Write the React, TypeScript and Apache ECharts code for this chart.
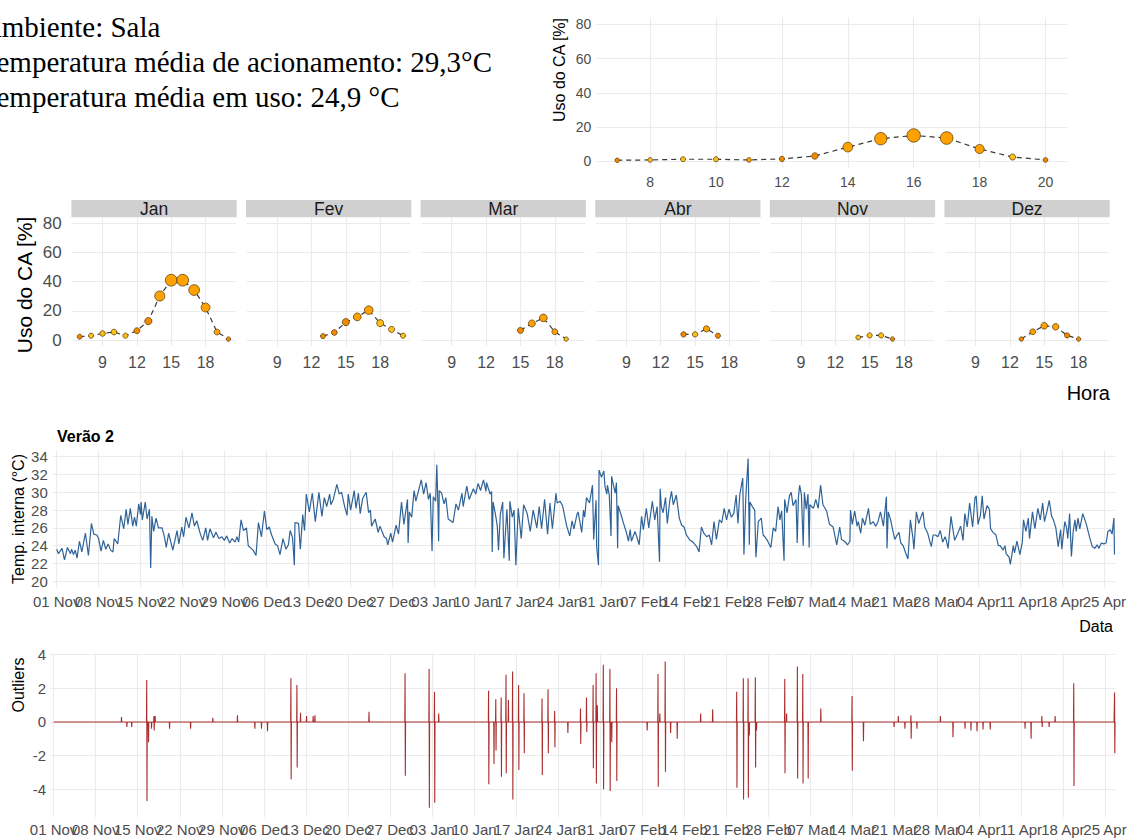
import { useEffect, useRef } from "react";
import * as echarts from "echarts";

const SANS = "'Liberation Sans', Arial, Helvetica, sans-serif";
const SERIF = "'Liberation Serif', 'Times New Roman', serif";

// ---------- text ----------
const infoLines = [
  "Ambiente: Sala",
  "Temperatura média de acionamento: 29,3°C",
  "Temperatura média em uso: 24,9 °C",
];

// ---------- tick values / labels ----------
const hourTicksTop = [8, 10, 12, 14, 16, 18, 20];
const hourTicksFacet = [9, 12, 15, 18];
const usageTicks = [0, 20, 40, 60, 80];
const tempTicks = [20, 22, 24, 26, 28, 30, 32, 34];
const outlierTicks = [-4, -2, 0, 2, 4];
const weekLabels = [
  "01 Nov", "08 Nov", "15 Nov", "22 Nov", "29 Nov", "06 Dec", "13 Dec", "20 Dec", "27 Dec",
  "03 Jan", "10 Jan", "17 Jan", "24 Jan", "31 Jan", "07 Feb", "14 Feb", "21 Feb", "28 Feb",
  "07 Mar", "14 Mar", "21 Mar", "28 Mar", "04 Apr", "11 Apr", "18 Apr", "25 Apr",
];

// ---------- overall hourly use (top right) ----------
const overallHours = [7, 8, 9, 10, 11, 12, 13, 14, 15, 16, 17, 18, 19, 20];
const overallUse = [0.6, 0.8, 1.2, 1.2, 0.8, 1.4, 3.1, 8.3, 13.2, 15.1, 13.6, 7.2, 2.5, 0.8];
const overallTone = ["d", "y", "y", "y", "o", "d", "d", "o", "o", "o", "o", "o", "y", "d"];

// ---------- monthly facets ----------
const facetMonths = ["Jan", "Fev", "Mar", "Abr", "Nov", "Dez"];
const janHours = [7, 8, 9, 10, 11, 12, 13, 14, 15, 16, 17, 18, 19, 20];
const janUse = [2.3, 3.0, 4.5, 5.5, 3.0, 6.4, 13.0, 30.2, 41.0, 41.0, 34.3, 22.3, 5.5, 0.7];
const janTone = ["d", "y", "y", "y", "y", "d", "d", "o", "o", "o", "o", "o", "o", "d"];
const fevHours = [13, 14, 15, 16, 17, 18, 19, 20];
const fevUse = [2.7, 5.2, 12.3, 15.9, 20.5, 11.6, 7.3, 3.0];
const fevTone = ["d", "d", "d", "o", "o", "y", "y", "y"];
const marHours = [15, 16, 17, 18, 19];
const marUse = [6.6, 11.4, 15.2, 5.7, 0.7];
const marTone = ["d", "o", "o", "o", "y"];
const abrHours = [14, 15, 16, 17];
const abrUse = [3.9, 3.9, 7.7, 3.0];
const abrTone = ["d", "y", "o", "d"];
const novHours = [14, 15, 16, 17];
const novUse = [1.8, 3.2, 3.2, 0.7];
const novTone = ["y", "y", "y", "d"];
const dezHours = [13, 14, 15, 16, 17, 18];
const dezUse = [0.7, 5.7, 9.8, 9.1, 3.2, 0.7];
const dezTone = ["d", "o", "o", "o", "d", "d"];

// ---------- indoor temperature (day since 01 Nov, °C) ----------
const tempReadings: number[][] = [
  [0.0,23.6],[0.3,23.1],[0.9,23.7],[1.3,22.4],[1.8,23.8],[2.3,23.1],[2.5,23.6],[2.8,23.0],[3.1,23.5],[3.4,22.6],
  [3.8,24.5],[4.2,23.3],[4.8,25.4],[5.3,22.9],[5.8,26.5],[6.2,25.3],[6.7,25.2],[7.0,24.8],[7.4,23.4],[7.8,24.6],
  [8.2,23.6],[8.6,24.2],[9.0,23.5],[9.4,23.3],[9.6,24.8],[10.2,24.2],[10.7,27.4],[11.2,25.9],[11.6,28.1],[11.9,26.4],
  [12.3,28.2],[12.7,26.2],[13.0,27.2],[13.3,26.2],[13.7,28.7],[14.0,27.5],[14.1,28.9],[14.3,26.9],[14.8,28.9],[15.1,27.0],
  [15.5,28.1],[15.7,21.5],[15.9,27.3],[16.2,25.6],[16.6,27.1],[17.0,26.0],[17.6,26.0],[18.0,25.0],[18.3,23.8],[18.7,25.4],
  [19.4,23.5],[20.1,25.7],[20.4,24.2],[20.9,26.1],[21.2,25.0],[21.6,27.2],[22.1,26.0],[22.6,27.7],[23.0,26.2],[23.4,26.8],
  [24.0,25.3],[24.4,24.6],[24.9,26.0],[25.2,24.6],[25.6,25.9],[26.2,24.9],[26.6,25.5],[27.1,24.8],[27.6,25.0],[28.0,24.6],
  [28.4,25.1],[28.9,24.3],[29.3,24.8],[29.8,24.4],[30.1,25.0],[30.4,24.4],[30.8,26.9],[31.2,25.7],[31.7,26.0],[32.0,24.0],
  [32.8,23.5],[33.3,22.9],[33.7,26.6],[34.2,25.0],[34.7,27.9],[35.1,25.8],[35.5,26.1],[35.9,25.2],[36.5,24.2],[36.9,24.0],
  [37.3,23.0],[37.8,24.8],[38.3,23.6],[38.7,24.1],[39.0,25.7],[39.4,24.9],[39.7,21.8],[39.8,26.6],[40.4,26.5],[40.7,23.6],
  [41.1,27.5],[41.4,25.7],[41.7,29.8],[42.2,27.8],[42.7,29.9],[43.2,26.7],[43.8,30.0],[44.3,27.3],[44.7,29.4],[45.1,28.4],
  [45.6,29.8],[45.8,28.6],[46.2,29.2],[46.8,30.9],[47.2,29.8],[47.6,30.0],[48.1,28.4],[48.5,27.4],[48.7,29.8],[49.1,28.0],
  [49.7,30.2],[50.0,28.2],[50.4,29.9],[50.7,27.6],[51.1,29.3],[51.7,30.0],[52.1,27.7],[52.4,28.0],[52.6,26.2],[53.2,27.0],
  [53.7,25.5],[54.0,26.2],[54.7,25.0],[55.1,24.8],[55.3,24.1],[55.8,25.4],[56.1,24.4],[56.7,26.3],[57.1,25.3],[57.6,28.9],
  [58.0,26.4],[58.6,29.2],[58.7,24.3],[58.9,27.8],[59.3,27.2],[59.7,30.2],[60.0,29.0],[60.9,31.4],[61.3,29.8],[61.7,31.1],
  [62.1,29.2],[62.4,29.9],[62.7,23.4],[62.9,29.5],[63.3,29.0],[63.5,33.1],[63.7,28.0],[63.8,24.5],[63.9,30.2],[64.3,29.9],
  [64.7,28.7],[65.0,29.4],[65.4,27.0],[66.2,26.6],[66.7,28.7],[67.1,28.0],[67.7,29.9],[67.9,28.4],[68.5,30.7],[68.9,29.2],
  [69.6,30.4],[70.0,29.8],[70.4,31.0],[70.8,30.2],[71.3,31.4],[71.7,30.1],[71.8,31.1],[72.4,29.8],[72.65,30.1],[72.75,23.3],
  [72.9,28.9],[73.3,27.5],[73.6,26.2],[73.8,23.5],[74.1,27.5],[74.5,28.9],[74.7,22.6],[75.2,28.1],[75.6,22.3],[75.7,29.0],
  [76.1,27.2],[76.4,28.0],[76.7,21.8],[77.1,28.2],[77.6,24.8],[78.0,28.6],[78.6,27.6],[79.1,25.6],[79.6,28.0],[80.2,26.0],
  [80.6,28.4],[81.0,25.9],[81.5,29.2],[82.0,25.3],[82.4,28.8],[82.8,25.9],[83.4,29.9],[83.6,28.8],[84.1,29.0],[84.5,28.5],
  [85.2,26.2],[85.7,25.1],[86.1,26.8],[86.4,25.9],[86.9,27.5],[87.1,27.8],[87.7,25.5],[88.0,28.0],[88.2,27.2],[88.5,29.4],
  [89.0,28.8],[89.5,30.8],[89.7,24.7],[90.1,29.1],[90.2,23.9],[90.5,21.8],[90.6,32.5],[91.0,31.7],[91.4,32.4],[91.6,30.6],
  [91.9,29.8],[92.0,30.8],[92.3,29.7],[92.6,25.1],[92.7,31.8],[93.0,30.8],[93.3,29.9],[93.5,31.1],[93.7,23.7],[93.8,28.5],
  [94.4,27.2],[94.6,26.7],[95.2,25.4],[95.5,24.5],[95.8,25.8],[96.0,24.5],[96.6,25.6],[96.9,25.0],[97.3,24.1],[97.7,27.3],
  [98.0,25.8],[98.5,28.2],[98.9,26.0],[99.5,29.0],[99.9,26.9],[100.3,28.4],[100.7,22.2],[100.8,30.4],[101.0,28.4],[101.3,27.7],
  [101.7,29.4],[102.0,26.5],[102.4,29.0],[102.7,30.1],[103.0,28.6],[103.5,29.7],[104.0,27.1],[104.4,26.3],[104.8,26.1],[105.2,25.2],
  [105.8,24.6],[106.3,24.4],[106.9,23.9],[107.3,23.3],[107.7,26.1],[108.1,25.4],[108.6,25.0],[109.0,25.2],[109.4,24.1],[109.8,26.7],
  [110.2,24.7],[110.7,26.9],[111.1,26.6],[111.5,28.2],[111.9,26.9],[112.3,28.1],[112.7,27.2],[113.1,27.6],[113.5,29.7],[113.8,26.5],
  [114.1,29.7],[114.6,31.6],[114.8,23.0],[115.1,29.3],[115.5,33.8],[115.7,24.1],[115.8,28.9],[116.2,28.4],[116.6,28.0],[116.8,22.7],
  [117.2,26.7],[117.7,27.1],[118.0,25.2],[118.3,25.0],[118.7,24.6],[119.0,24.2],[119.3,23.8],[119.7,26.0],[120.1,25.6],[120.5,28.4],
  [120.8,26.9],[121.1,27.9],[121.5,22.3],[121.6,29.2],[122.0,27.7],[122.4,29.6],[122.7,30.0],[123.0,28.5],[123.5,29.2],[123.7,24.3],
  [123.9,29.4],[124.1,30.8],[124.4,29.7],[124.7,24.0],[124.9,30.0],[125.2,28.1],[125.5,29.8],[125.7,23.8],[125.8,28.6],[126.1,28.4],
  [126.4,28.2],[126.8,29.2],[127.2,28.2],[127.6,30.8],[128.0,28.6],[128.6,27.9],[129.1,26.4],[129.7,26.1],[130.3,24.1],[130.8,26.1],
  [131.1,24.7],[131.6,24.5],[132.1,24.1],[132.5,24.5],[132.6,28.0],[132.9,26.4],[133.3,27.9],[133.7,26.2],[133.9,26.7],[134.3,25.4],
  [134.6,27.1],[135.0,26.3],[135.6,28.2],[135.9,26.4],[136.4,26.7],[136.8,26.2],[137.2,26.7],[137.6,27.8],[138.1,26.2],[138.6,29.5],
  [138.7,23.7],[138.9,27.8],[139.3,26.9],[139.7,25.6],[140.0,24.7],[140.3,25.1],[140.7,25.5],[141.0,24.3],[141.4,24.0],[141.8,23.2],
  [142.2,22.5],[142.6,26.9],[143.0,25.0],[143.2,23.6],[143.6,27.8],[144.0,26.5],[144.3,27.1],[144.7,27.8],[145.0,26.1],[145.5,25.4],
  [145.8,24.6],[146.1,23.9],[146.4,25.2],[146.8,25.2],[147.2,25.0],[147.6,25.7],[148.0,24.4],[148.4,25.0],[148.6,24.6],[148.9,23.7],
  [149.4,27.3],[149.6,26.3],[150.0,24.6],[150.4,25.2],[151.0,26.2],[151.4,24.6],[151.7,27.6],[152.1,26.1],[152.5,28.8],[153.0,26.1],
  [153.4,29.4],[153.6,29.6],[153.9,26.4],[154.3,27.4],[154.6,29.6],[154.9,27.0],[155.4,28.5],[155.8,28.1],[156.0,25.9],[156.4,25.5],
  [156.9,25.2],[157.3,24.0],[157.6,24.0],[158.1,23.5],[158.4,24.0],[158.6,23.1],[159.1,22.7],[159.3,21.9],[159.8,24.0],[160.0,23.2],
  [160.4,24.5],[160.9,23.0],[161.3,24.4],[161.5,26.9],[161.9,25.6],[162.3,27.1],[162.5,24.8],[163.0,27.8],[163.4,25.9],[163.9,28.2],
  [164.3,26.9],[164.7,28.8],[165.0,26.7],[165.4,27.8],[165.8,29.1],[166.2,27.3],[166.5,26.9],[166.9,26.0],[167.3,23.9],[167.7,25.8],
  [167.9,23.6],[168.4,26.7],[168.7,26.0],[168.9,24.8],[169.2,27.6],[169.5,22.8],[169.8,25.6],[170.1,26.9],[170.3,25.6],[170.6,27.1],
  [170.9,25.9],[171.4,27.6],[172.0,26.4],[172.6,24.8],[173.0,23.9],[173.4,23.7],[173.8,24.1],[174.1,23.7],[174.5,24.3],[174.9,24.2],
  [175.3,24.3],[175.6,25.6],[176.0,25.8],[176.3,25.3],[176.6,27.1],[176.7,23.0],
];

// ---------- outliers: [day since 01 Nov, value at consecutive hours...] ----------
const outlierEvents: number[][] = [
  [11.3,0.3],[12.2,-0.3],[13.0,-0.3],[15.5,2.5,-4.7],[15.8,-1.2],[16.3,-0.4],[16.7,0.35,-0.5],[16.9,0.35],
  [19.3,-0.4],[22.8,-0.4],[26.5,0.25],[30.6,0.4],[33.5,-0.4],[34.6,-0.4],[35.6,-0.55],[39.5,2.6,-3.4],
  [40.5,2.2,-2.7],[41.1,0.55],[42.1,0.35],[43.2,0.35],[43.5,0.4],[52.5,0.6],[58.5,2.9,-3.2],[62.5,3.15,-5.1],
  [63.4,1.8,-4.8],[64.1,0.5],[72.4,1.85,-3.7],[73.3,-2.5],[73.6,1.35,-1.7],[74.5,1.45,-3.25],[75.3,2.8,-3.05],
  [75.7,1.3],[76.4,3.0,-4.6],[77.4,2.2,-2.85],[78.3,1.7,-1.85],[81.3,1.4,-3.15],[82.3,1.95,-1.85],[83.4,0.65,-1.5],
  [85.6,-0.65],[87.7,0.8,-1.3],[88.7,1.45,-0.6],[89.8,2.2,-2.75],[90.3,2.9,-3.65],[90.5,1.0],[91.5,3.4,-4.0],
  [92.6,3.15,-4.1],[92.9,-1.2],[93.7,2.0,-3.5],[98.8,-0.5],[100.6,2.85,-3.85],[100.9,0.5],[101.8,3.6,-2.95],
  [102.7,-0.65],[103.8,-1.0],[107.7,0.5],[109.7,0.75],[113.7,1.8,-3.9],[114.8,2.6,-4.6],[115.6,2.6,-4.5],
  [115.8,-0.8],[116.8,2.65,-2.7],[117.0,-0.5],[121.7,2.55,-3.05],[122.0,0.5],[123.8,3.3,-3.35],[124.7,2.85,-3.65],
  [125.6,-3.35],[127.7,0.8],[132.9,1.55,-2.9],[134.8,-1.15],[139.9,-0.3],[140.6,0.35],[141.7,-0.4],[142.7,0.4,-1.0],
  [143.7,-0.4],[147.6,0.35],[149.7,-0.9],[151.7,-0.4],[152.7,-0.5],[153.7,-0.55],[154.7,-0.45],[155.9,-0.45],
  [161.7,-0.4],[162.7,-1.0],[164.5,0.35,-0.3],[165.7,-0.3],[166.7,0.35],[169.8,2.3,-3.8],[176.55,0.8,1.75,-1.85],
];
const seriesStartDay = 0;
const seriesEndDay = 176.7;

// ---------- styles / layout ----------
const TONES: Record<string, string> = { d: "#F28A00", o: "#FFA200", y: "#FFBF1A" };
const GRID_LINE = "#EBEBEB";
const TICK_TEXT = "#4D4D4D";
const FACET_LEFT0 = 72.2;
const FACET_PITCH = 174.6;
const FACET_W = 163.7;
const FACET_TOP = 217.5;
const FACET_H = 128.4;

function topSize(v: number) {
  return 3.5 + 0.4 * v + Math.sqrt(v);
}
function facetSize(v: number) {
  return 3.8 + 0.1 * v + 0.6 * Math.sqrt(v);
}

function valueAxis(gridIndex: number, min: number, max: number, ticks: number[], opts: any = {}) {
  return {
    type: "value",
    gridIndex,
    min,
    max,
    position: opts.position,
    axisLine: { show: false },
    axisTick: { show: false, customValues: ticks },
    axisLabel: {
      show: opts.showLabel !== false,
      customValues: opts.labelValues ?? ticks,
      showMinLabel: true,
      showMaxLabel: true,
      hideOverlap: false,
      fontSize: opts.fontSize ?? 14,
      color: TICK_TEXT,
      fontFamily: SANS,
      margin: opts.margin ?? 6,
      formatter: opts.formatter,
    },
    splitLine: { show: opts.showSplit !== false, lineStyle: { color: GRID_LINE, width: 1.1 } },
  };
}

function pointSeries(xi: number, hours: number[], use: number[], tone: string[], sizeFn: (v: number) => number) {
  return {
    type: "line",
    xAxisIndex: xi,
    yAxisIndex: xi,
    clip: false,
    symbol: "circle",
    showSymbol: true,
    symbolSize: (val: number[]) => sizeFn(val[1]),
    lineStyle: { color: "#3a3a3a", width: 1.2, type: [5, 4] },
    itemStyle: { borderColor: "rgba(70,45,0,0.85)", borderWidth: 0.8 },
    data: hours.map((h, i) => ({ value: [h, use[i]], itemStyle: { color: TONES[tone[i]] } })),
    silent: true,
  };
}

function buildOption() {
  const grids: any[] = [];
  const xAxes: any[] = [];
  const yAxes: any[] = [];
  const series: any[] = [];
  const graphics: any[] = [];

  // 0: overall use
  grids.push({ left: 595.8, top: 17.45, width: 471.1, height: 150.7, outerBoundsMode: "none", containLabel: false });
  xAxes.push(valueAxis(0, 6.35, 20.65, hourTicksTop, { fontSize: 14, margin: 7 }));
  yAxes.push(valueAxis(0, -4, 84, usageTicks, { fontSize: 14, margin: 4.5 }));
  series.push(pointSeries(0, overallHours, overallUse, overallTone, topSize));

  // 1..6: facets
  const facetData = [
    [janHours, janUse, janTone],
    [fevHours, fevUse, fevTone],
    [marHours, marUse, marTone],
    [abrHours, abrUse, abrTone],
    [novHours, novUse, novTone],
    [dezHours, dezUse, dezTone],
  ] as any[];
  facetMonths.forEach((m, i) => {
    const gi = i + 1;
    const left = FACET_LEFT0 + FACET_PITCH * i;
    grids.push({ left, top: FACET_TOP, width: FACET_W, height: FACET_H, outerBoundsMode: "none", containLabel: false });
    xAxes.push(valueAxis(gi, 6.35, 20.65, hourTicksFacet, { fontSize: 16, margin: 9 }));
    yAxes.push(valueAxis(gi, -4, 84, usageTicks, { fontSize: 17, margin: 10.5, showLabel: i === 0 }));
    series.push(pointSeries(gi, facetData[i][0], facetData[i][1], facetData[i][2], facetSize));
    graphics.push({
      type: "rect",
      shape: { x: left - 0.8, y: 200, width: FACET_W + 1.6, height: 17.3 },
      style: { fill: "#D0D0D0" },
      silent: true,
    });
    graphics.push({
      type: "text",
      x: left + FACET_W / 2,
      y: 208.8,
      style: { text: m, fontSize: 17.5, fontFamily: SANS, fill: "#1A1A1A", align: "center", verticalAlign: "middle" },
      silent: true,
    });
  });

  // 7: temperature, 8: outliers (labels split over two bottom axes so overlapping labels all show)
  const weekFormatter = (v: number) => weekLabels[Math.round(v / 7)] ?? "";
  const weekTicks = weekLabels.map((_, i) => i * 7);
  const evenTicks = weekTicks.filter((_, i) => i % 2 === 0);
  const oddTicks = weekTicks.filter((_, i) => i % 2 === 1);

  grids.push({ left: 52.8, top: 450.5, width: 1062.3, height: 137, outerBoundsMode: "none", containLabel: false });
  xAxes.push(valueAxis(7, -0.65, 176.8, weekTicks, { fontSize: 15, margin: 6, formatter: weekFormatter, labelValues: evenTicks, position: "bottom" }));
  yAxes.push(valueAxis(7, 19.3, 34.7, tempTicks, { fontSize: 15, margin: 5 }));
  series.push({
    type: "line",
    xAxisIndex: 7,
    yAxisIndex: 7,
    showSymbol: false,
    symbol: "none",
    lineStyle: { color: "#1D568F", width: 1.2, opacity: 0.92 },
    data: tempReadings,
    silent: true,
  });

  const H = 1 / 24;
  const outlierData: number[][] = [[seriesStartDay, 0]];
  outlierEvents.forEach((ev) => {
    const d = ev[0];
    const vals = ev.slice(1);
    outlierData.push([d - H, 0]);
    vals.forEach((v, k) => outlierData.push([d + k * H, v]));
    outlierData.push([d + vals.length * H, 0]);
  });
  outlierData.push([Math.max(seriesEndDay, outlierData[outlierData.length - 1][0]), 0]);
  grids.push({ left: 50, top: 653.3, width: 1065.2, height: 163.8, outerBoundsMode: "none", containLabel: false });
  xAxes.push(valueAxis(8, -0.6, 176.7, weekTicks, { fontSize: 15, margin: 4.5, formatter: weekFormatter, labelValues: evenTicks, position: "bottom" }));
  yAxes.push(valueAxis(8, -5.65, 4.08, outlierTicks, { fontSize: 15, margin: 4 }));
  series.push({
    type: "line",
    xAxisIndex: 8,
    yAxisIndex: 8,
    showSymbol: false,
    symbol: "none",
    lineStyle: { color: "#9E1010", width: 1.1, opacity: 0.88 },
    data: outlierData,
    silent: true,
  });

  // companion axes carrying the odd-week labels
  xAxes.push(valueAxis(7, -0.65, 176.8, oddTicks, { fontSize: 15, margin: 6, formatter: weekFormatter, position: "bottom", showSplit: false }));
  xAxes.push(valueAxis(8, -0.6, 176.7, oddTicks, { fontSize: 15, margin: 4.5, formatter: weekFormatter, position: "bottom", showSplit: false }));

  // texts
  infoLines.forEach((t, i) => {
    graphics.push({
      type: "text",
      x: -19.2,
      y: 26.5 + i * 35,
      style: { text: t, fontSize: 29, fontFamily: SERIF, fill: "#000", align: "left", verticalAlign: "middle" },
      silent: true,
    });
  });
  const rotText = (text: string, x: number, y: number, size: number) => ({
    type: "text",
    x,
    y,
    rotation: Math.PI / 2,
    style: { text, fontSize: size, fontFamily: SANS, fill: "#000", align: "center", verticalAlign: "middle" },
    silent: true,
  });
  const plainText = (text: string, x: number, y: number, size: number, align: string, weight = "normal") => ({
    type: "text",
    x,
    y,
    style: { text, fontSize: size, fontFamily: SANS, fontWeight: weight, fill: "#000", align, verticalAlign: "middle" },
    silent: true,
  });
  graphics.push(rotText("Uso do CA [%]", 559, 70, 16));
  graphics.push(rotText("Uso do CA [%]", 24, 285, 21));
  graphics.push(plainText("Hora", 1110, 393, 20, "right"));
  graphics.push(plainText("Verão 2", 57, 436, 16, "left", "bold"));
  graphics.push(rotText("Temp. interna (°C)", 18, 519, 16));
  graphics.push(plainText("Data", 1113, 626.5, 16, "right"));
  graphics.push(rotText("Outliers", 18, 685, 16));

  return {
    animation: false,
    backgroundColor: "#FFFFFF",
    textStyle: { fontFamily: SANS },
    grid: grids,
    xAxis: xAxes,
    yAxis: yAxes,
    series,
    graphic: { elements: graphics },
  };
}

export default function App() {
  const ref = useRef<HTMLDivElement>(null);
  useEffect(() => {
    if (!ref.current) return;
    const chart = echarts.init(ref.current, undefined, { renderer: "svg", width: 1127, height: 839 });
    chart.setOption(buildOption() as any);
    return () => chart.dispose();
  }, []);
  return (
    <div
      ref={ref}
      style={{ position: "absolute", left: 0, top: 0, width: 1127, height: 839, background: "#fff", overflow: "hidden" }}
    />
  );
}
